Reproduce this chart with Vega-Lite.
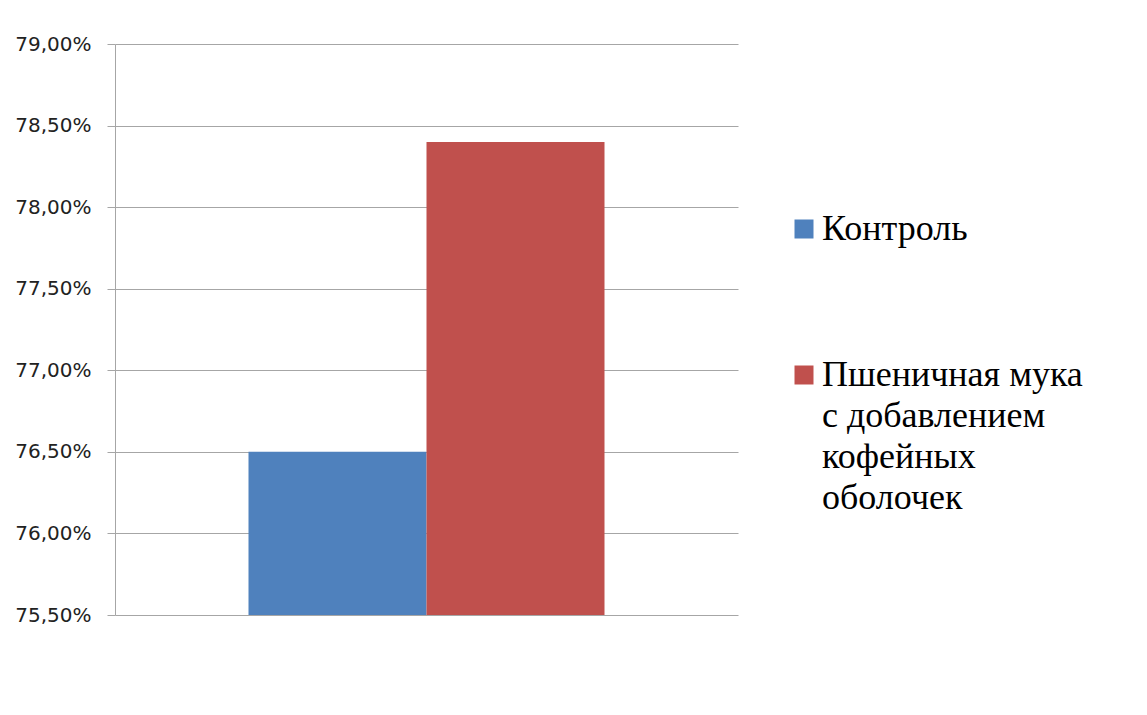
{
  "$schema": "https://vega.github.io/schema/vega-lite/v6.json",
  "width": 623,
  "height": 571,
  "autosize": {"type": "none"},
  "padding": {"left": 115, "top": 44, "right": 409, "bottom": 100},
  "background": "white",
  "config": {
    "locale": {
      "number": {"decimal": ",", "thousands": " ", "grouping": [3], "currency": ["", " ₽"]}
    },
    "view": {"stroke": null},
    "style": {"guide-label": {"lineHeight": 41}}
  },
  "data": {
    "values": [
      {"series": "Контроль", "value": 0.765},
      {"series": "Пшеничная мука с добавлением кофейных оболочек", "value": 0.784}
    ]
  },
  "mark": {"type": "bar"},
  "encoding": {
    "x": {
      "field": "series",
      "type": "nominal",
      "sort": null,
      "scale": {"paddingInner": 0, "paddingOuter": 0.75},
      "axis": null
    },
    "y": {
      "field": "value",
      "type": "quantitative",
      "scale": {"domain": [0.755, 0.79], "zero": false, "nice": false},
      "axis": {
        "values": [0.755, 0.76, 0.765, 0.77, 0.775, 0.78, 0.785, 0.79],
        "format": ".2%",
        "title": null,
        "grid": true,
        "gridColor": "#a6a6a6",
        "domainColor": "#a6a6a6",
        "tickColor": "#a6a6a6",
        "tickSize": 8,
        "labelPadding": 16,
        "labelFont": "DejaVu Sans",
        "labelFontSize": 20,
        "labelColor": "#222222"
      }
    },
    "y2": {"datum": 0.755},
    "color": {
      "field": "series",
      "type": "nominal",
      "sort": null,
      "scale": {"range": ["#4F81BD", "#C0504D"]},
      "legend": {
        "title": null,
        "orient": "none",
        "legendX": 671,
        "legendY": 167,
        "padding": 0,
        "symbolType": "square",
        "symbolSize": 361,
        "symbolStrokeWidth": 0,
        "symbolOpacity": 1,
        "labelOffset": 0,
        "labelFont": "Liberation Serif",
        "labelFontSize": 36,
        "labelColor": "#000000",
        "labelLimit": 400,
        "rowPadding": 110,
        "labelExpr": "datum.label == 'Контроль' ? datum.label : ['Пшеничная мука', 'с добавлением', 'кофейных', 'оболочек']"
      }
    }
  }
}
